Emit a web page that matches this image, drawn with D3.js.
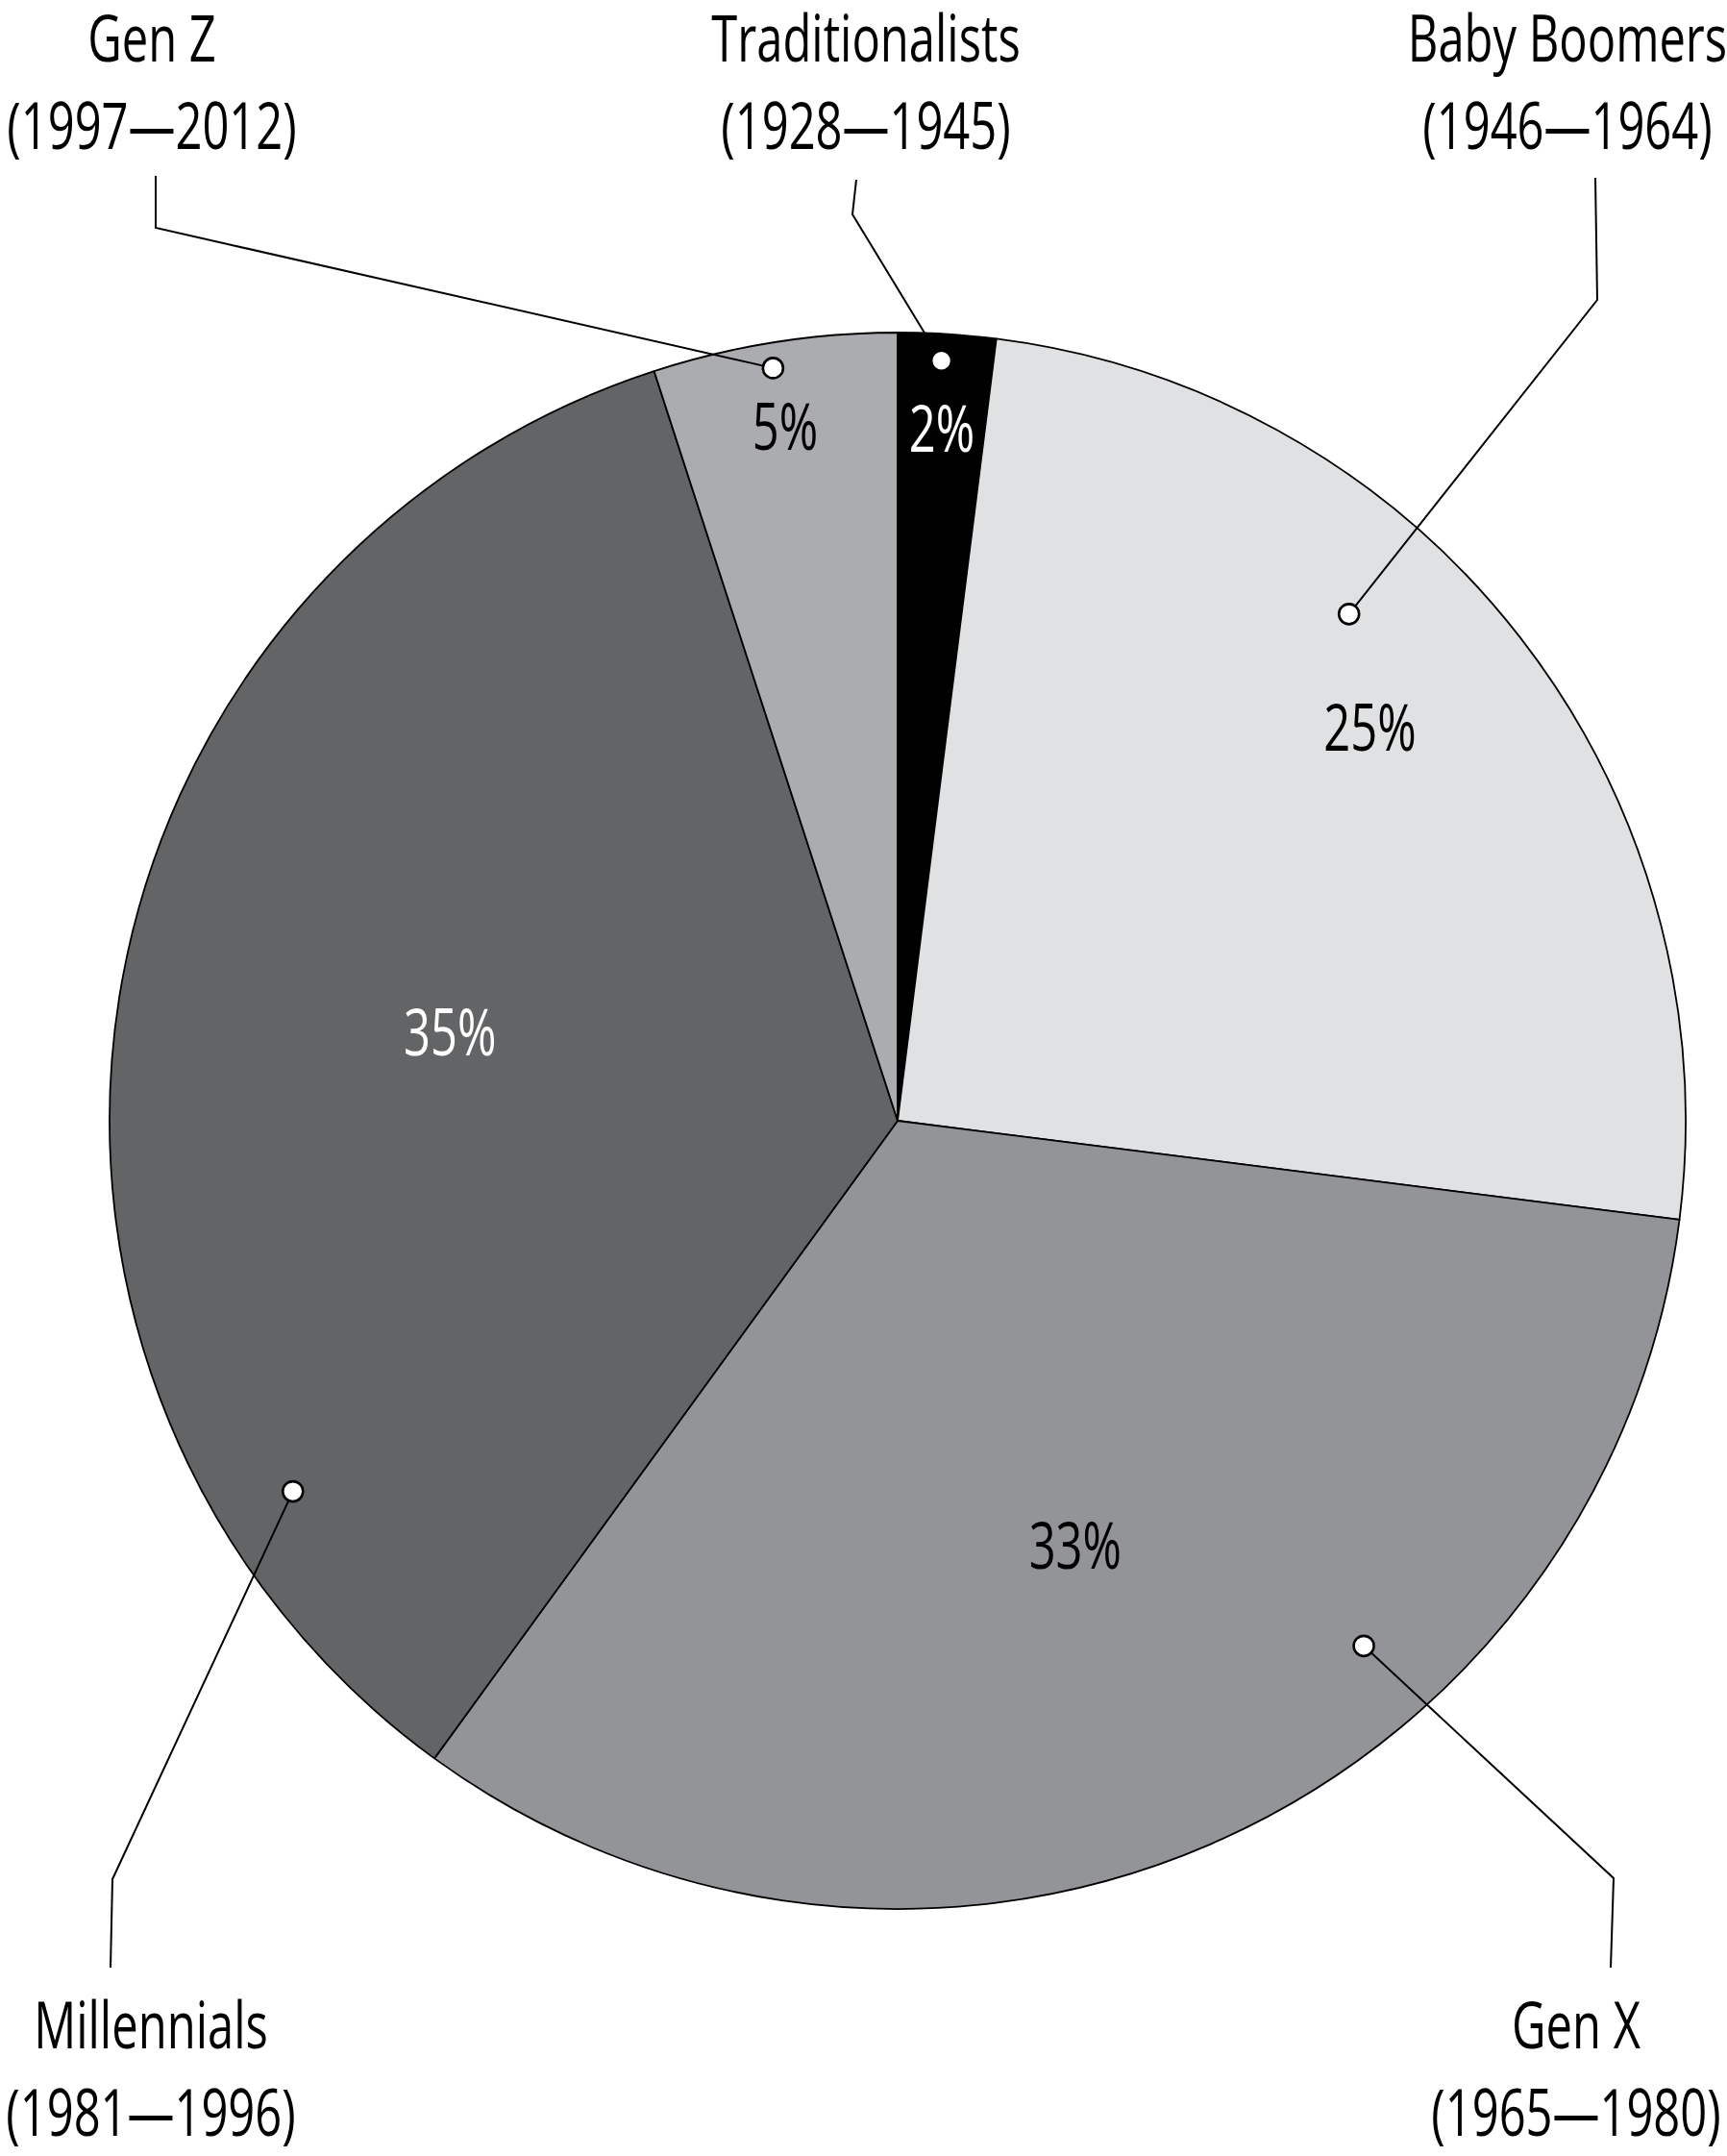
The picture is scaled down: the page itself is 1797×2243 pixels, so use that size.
<!DOCTYPE html>
<html lang="en">
<head>
<meta charset="utf-8">
<title>Generations</title>
<script src="https://d3js.org/d3.v7.min.js"></script>
<style>
  html, body { margin: 0; padding: 0; background: #fff; }
  text { font-family: "Open Sans", "Noto Sans", sans-serif; font-weight: 500; }
  .leader { fill: none; stroke: #000; stroke-width: 2px; }
</style>
</head>
<body>
<div id="chart"></div>
<script>
// data
var generations = ["Traditionalists", "Baby Boomers", "Gen X", "Millennials", "Gen Z"];
var birthYears  = ["(1928\u20141945)", "(1946\u20141964)", "(1965\u20141980)", "(1981\u20141996)", "(1997\u20142012)"];
var shares      = [2, 25, 33, 35, 5];
var sliceColors = ["#000000", "#e0e1e3", "#939498", "#636466", "#abacaf"];
var pctColors   = ["#ffffff", "#000000", "#000000", "#ffffff", "#000000"];

// layout (angle in degrees clockwise from top, radius as fraction of pie radius)
var pctAt = [[3.65, 0.88], [50.2, 0.78], [157.3, 0.584], [281.2, 0.579], [350.8, 0.892]];
var dotAt = [[3.3, 0.966], [41.7, 0.861], [138.4, 0.891], [238.5, 0.90], [350.6, 0.968]];
var nameAt = [[901, 64], [1631, 64], [1640, 2131], [157, 2131], [158, 64]];
var leaderPts = [
  [[891, 187], [887, 223]],
  [[1660, 185], [1662, 312]],
  [[1676, 2047], [1679, 1954]],
  [[115, 2047], [117, 1955]],
  [[162, 183], [162, 237]]
];

var w = 1797, h = 2243;
var cx = 934, cy = 1166, radius = 820;
var fontSize = 67, lineGap = 91;
var squeeze = 0.73;   // fake a condensed face

var svg = d3.select("#chart").append("svg")
  .attr("width", w)
  .attr("height", h);

var pie = d3.pie().sort(null).value(function(d) { return d; });
var arc = d3.arc().innerRadius(0).outerRadius(radius);

var rows = shares.map(function(v, i) {
  return { name: generations[i], years: birthYears[i], value: v, i: i };
});
var arcs = pie(shares);

function polar(a, f) {
  var rad = a * Math.PI / 180;
  return [cx + radius * f * Math.sin(rad), cy - radius * f * Math.cos(rad)];
}

var g = svg.append("g").attr("transform", "translate(" + cx + "," + cy + ")");

g.selectAll("path")
  .data(arcs)
  .enter()
  .append("path")
  .attr("d", arc)
  .attr("fill", function(d, i) { return sliceColors[i]; })
  .attr("stroke", "#000")
  .attr("stroke-width", 1.8)
  .attr("stroke-linejoin", "round");

// percent labels
svg.selectAll("text.pct")
  .data(rows)
  .enter()
  .append("text")
  .attr("class", "pct")
  .attr("transform", function(d) {
    var p = polar(pctAt[d.i][0], pctAt[d.i][1]);
    return "translate(" + p[0] + "," + p[1] + ") scale(" + squeeze + ",1)";
  })
  .attr("dy", "0.36em")
  .attr("text-anchor", "middle")
  .style("font-size", fontSize + "px")
  .attr("fill", function(d) { return pctColors[d.i]; })
  .text(function(d) { return d.value + "%"; });

// leader lines from label to dot
var line = d3.line();
svg.selectAll("path.leader")
  .data(rows)
  .enter()
  .append("path")
  .attr("class", "leader")
  .attr("d", function(d) {
    var pts = leaderPts[d.i].slice();
    pts.push(polar(dotAt[d.i][0], dotAt[d.i][1]));
    return line(pts);
  });

svg.selectAll("circle")
  .data(rows)
  .enter()
  .append("circle")
  .attr("cx", function(d) { return polar(dotAt[d.i][0], dotAt[d.i][1])[0]; })
  .attr("cy", function(d) { return polar(dotAt[d.i][0], dotAt[d.i][1])[1]; })
  .attr("r", 10.5)
  .attr("fill", "#fff")
  .attr("stroke", "#000")
  .attr("stroke-width", 2.6);

// generation names + years
var names = svg.selectAll("text.name")
  .data(rows)
  .enter()
  .append("text")
  .attr("class", "name")
  .attr("transform", function(d) {
    return "translate(" + nameAt[d.i][0] + "," + nameAt[d.i][1] + ") scale(" + squeeze + ",1)";
  })
  .attr("text-anchor", "middle")
  .style("font-size", fontSize + "px")
  .attr("fill", "#000");

names.append("tspan")
  .attr("x", 0)
  .attr("y", 0)
  .text(function(d) { return d.name; });

names.append("tspan")
  .attr("x", 0)
  .attr("y", lineGap)
  .text(function(d) { return d.years; });
</script>
</body>
</html>
